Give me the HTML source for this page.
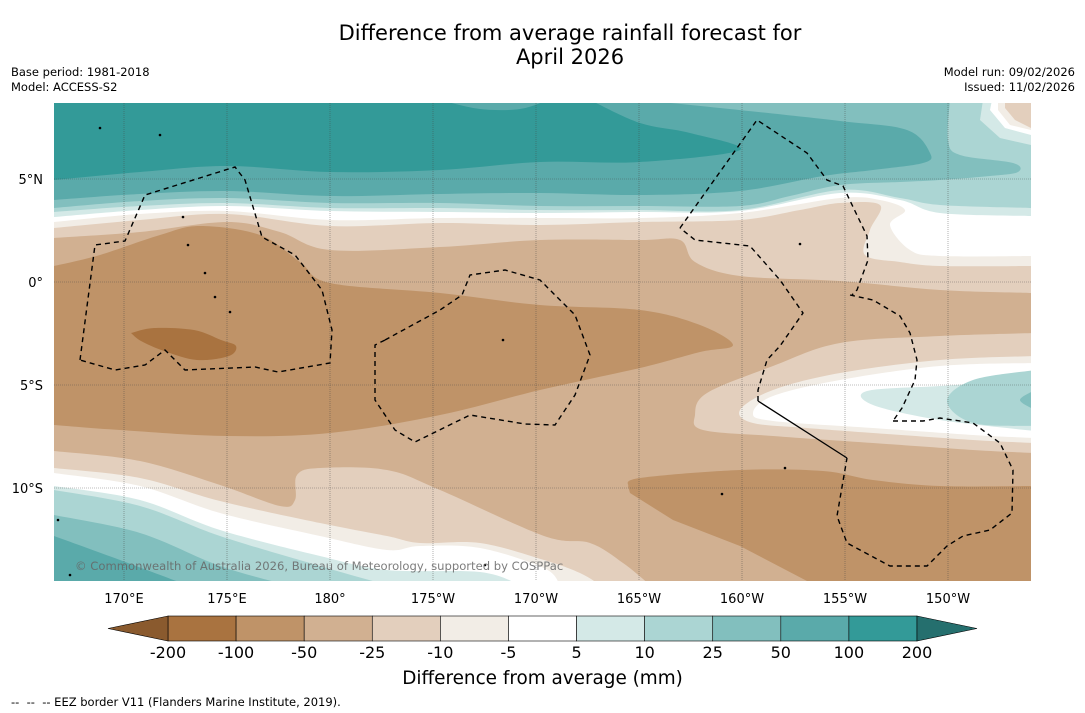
<!DOCTYPE html>
<html><head><meta charset="utf-8">
<style>
html,body{margin:0;padding:0;background:#fff;}
body{width:1085px;height:713px;overflow:hidden;font-family:"DejaVu Sans","Liberation Sans",sans-serif;position:relative;}
.t{position:absolute;white-space:nowrap;color:#000;}
</style></head>
<body>
<div class="t" style="left:0;width:1140px;text-align:center;top:21px;font-size:21px;line-height:24px;">Difference from average rainfall forecast for<br>April 2026</div>
<div class="t" style="left:11px;top:65px;font-size:11.5px;line-height:15px;">Base period: 1981-2018<br>Model: ACCESS-S2</div>
<div class="t" style="right:10px;top:65px;font-size:11.5px;line-height:15px;text-align:right;">Model run: 09/02/2026<br>Issued: 11/02/2026</div>
<div class="t" style="left:0;width:1085px;text-align:center;top:668px;font-size:18.4px;">Difference from average (mm)</div>
<div class="t" style="left:11px;top:695px;font-size:11.5px;">--&nbsp; --&nbsp; -- EEZ border V11 (Flanders Marine Institute, 2019).</div>
<svg id="s" width="1085" height="713" style="position:absolute;left:0;top:0" xmlns="http://www.w3.org/2000/svg">
<defs><clipPath id="mc"><rect x="54" y="103" width="977" height="478"/></clipPath></defs>
<g id="map" clip-path="url(#mc)"></g>
<g id="grid"></g>
<g id="eez" clip-path="url(#mc)"></g>
<text x="75" y="570" font-size="11.6" fill="#666" fill-opacity="0.85" font-family="DejaVu Sans">© Commonwealth of Australia 2026, Bureau of Meteorology, supported by COSPPac</text>
<g id="axes" font-family="DejaVu Sans" font-size="13"></g>
<g id="cbar"></g>
</svg>
<script>
const NS='http://www.w3.org/2000/svg';
const levels=['-200','-100','-50','-25','-10','-5','5','10','25','50','100','200'];
const colors=['#a97340','#bf9368','#d1b091','#e3cfbd','#f2ede6','#ffffff','#d4e9e7','#abd5d3','#82bfbe','#5aaaaa','#339a98'];
const underColor='#8a5a2e', overColor='#256f6e';
const lonTicks=['170°E','175°E','180°','175°W','170°W','165°W','160°W','155°W','150°W'];
const lonVals=[170,175,180,185,190,195,200,205,210];
const latTicks=['5°N','0°','5°S','10°S'];
const latVals=[5,0,-5,-10];
const X=lon=>124+(lon-170)*20.6, Y=lat=>282-lat*20.6;
function mk(tag,attrs,parent){const e=document.createElementNS(NS,tag);for(const k in attrs)e.setAttribute(k,attrs[k]);parent.appendChild(e);return e;}
function smooth(p){let d='M'+p[0][0]+','+p[0][1];for(let i=0;i<p.length-1;i++){const a=p[i-1]||p[i],b=p[i],c=p[i+1],e=p[i+2]||c;
 d+=' C'+(b[0]+(c[0]-a[0])/6).toFixed(1)+','+(b[1]+(c[1]-a[1])/6).toFixed(1)+' '+(c[0]-(e[0]-b[0])/6).toFixed(1)+','+(c[1]-(e[1]-b[1])/6).toFixed(1)+' '+c[0]+','+c[1];}return d;}
const map=document.getElementById('map');
function region(pts,extra,ci,name){const p=mk('path',{d:smooth(pts)+extra+' Z',fill:colors[ci]},map);}
mk('rect',{x:54,y:103,width:977,height:478,fill:colors[2]},map);
region([[54,238],[140,232],[227,222],[280,232],[330,250],[440,247],[540,240],[640,240],[680,240],[695,262],[740,276],[840,281],[940,290],[1031,293]],' L1031,100 L54,100',3,'top-band-minus25');
region([[54,228],[140,220],[227,214],[330,226],[440,223],[540,225],[640,222],[740,220],[800,210],[840,203],[880,205],[870,230],[865,255],[900,262],[940,266],[1031,266]],' L1031,128 L1015,120 L1005,108 L1005,100 L54,100',4,'top-band-minus10');
region([[54,222],[140,214],[227,211],[330,220],[440,218],[540,218],[640,218],[740,213],[840,198],[880,200],[905,210],[890,225],[910,250],[940,256],[1031,256]],' L1031,130 L1010,125 L998,110 L998,100 L54,100',5,'top-band-white');
region([[54,217],[140,210],[227,206],[330,211],[440,212],[540,213],[640,212],[740,211],[840,193],[900,200],[940,213],[1031,216]],' L1031,135 L1005,128 L990,110 L992,100 L54,100',6,'top-band-5');
region([[54,212],[140,206],[227,203],[330,208],[440,208],[540,210],[640,210],[740,210],[840,190],[900,198],[940,205],[1031,208]],' L1031,145 L1000,138 L980,120 L983,100 L54,100',7,'top-band-10');
region([[54,208],[140,201],[227,198],[330,203],[440,203],[540,206],[640,206],[740,206],[790,196],[840,185],[900,182],[940,180],[990,176],[1018,172],[1013,163],[960,155],[948,140],[950,100]],' L54,100',8,'top-band-25');
region([[54,200],[140,194],[227,191],[330,196],[440,194],[540,193],[640,195],[740,191],[823,176],[873,170],[923,163],[930,153],[907,130],[840,121],[720,108],[640,100]],' L54,100',9,'top-band-50');
region([[54,180],[140,172],[227,166],[330,172],[440,170],[540,162],[640,162],[740,150],[690,133],[640,123],[590,100]],' L54,100',10,'top-band-100');
region([[440,100],[480,109],[520,109],[548,100]],'',9,'top-patch-50');
region([[54,451],[140,461],[220,485],[280,506],[295,500],[297,475],[320,468],[387,470],[440,490],[544,536],[590,543],[623,563],[650,585]],' L54,585',3,'bottom-band-minus25');
region([[54,468],[140,478],[220,501],[320,523],[387,536],[420,543],[480,543],[544,560],[580,573],[600,585]],' L54,585',4,'bottom-band-minus10');
region([[54,473],[140,486],[220,513],[320,536],[387,550],[420,546],[480,548],[544,568],[560,585]],' L54,585',5,'bottom-band-white');
region([[54,486],[140,500],[220,530],[320,556],[387,570],[480,572],[520,585]],' L54,585',6,'bottom-band-5');
region([[54,490],[140,506],[220,536],[320,566],[387,585]],' L54,585',7,'bottom-band-10');
region([[54,515],[140,533],[220,566],[287,585]],' L54,585',8,'bottom-band-25');
region([[54,536],[120,560],[187,585]],' L54,585',9,'bottom-band-50');
region([[54,266],[100,255],[160,235],[200,226],[260,235],[300,262],[330,283],[440,293],[540,305],[640,310],[700,325],[733,345],[700,352],[640,368],[540,390],[440,415],[330,433],[227,436],[120,430],[54,425]],' L50,425 L50,266',1,'dry-band-minus100');
region([[131,333],[154,328],[194,330],[221,340],[236,346],[229,356],[197,360],[164,351],[141,341],[131,333]],'',0,'dry-core-minus200');
region([[628,486],[640,478],[740,470],[823,471],[873,480],[940,486],[1031,486]],' L1035,486 L1035,585 L820,585 L807,581 L740,546 L673,520 L630,493',1,'southeast-dry-minus100');
region([[1035,333],[940,336],[840,343],[773,366],[707,393],[695,415],[703,430],[773,436],[873,443],[973,450],[1035,453]],'',3,'tongue-minus25');
region([[1035,356],[940,360],[840,373],[773,390],[740,410],[753,423],[807,428],[873,433],[973,440],[1035,443]],'',4,'tongue-minus10');
region([[1035,363],[940,366],[840,380],[773,396],[753,413],[773,421],[873,428],[973,435],[1035,438]],'',5,'tongue-white');
region([[1035,380],[940,386],[867,391],[873,405],[940,420],[1035,431]],'',6,'tongue-5');
region([[1035,370],[973,380],[947,401],[973,423],[1035,426]],'',7,'tongue-10');
region([[1035,390],[1020,400],[1035,410]],'',8,'tongue-25');
const isl=[[183,217],[188,245],[205,273],[215,297],[230,312],[160,135],[100,128],[503,340],[800,244],[785,468],[722,494],[485,565],[70,575],[58,520]];
isl.forEach(p=>{const c=mk('circle',{cx:p[0],cy:p[1],r:1.3,fill:'#000'},map);});
const grid=document.getElementById('grid');
lonVals.forEach(v=>{const l=mk('line',{x1:X(v),x2:X(v),y1:103,y2:581,stroke:'#444','stroke-width':0.6,'stroke-opacity':0.7,'stroke-dasharray':'1,1'},grid);});
latVals.forEach(v=>{const l=mk('line',{x1:54,x2:1031,y1:Y(v),y2:Y(v),stroke:'#444','stroke-width':0.6,'stroke-opacity':0.7,'stroke-dasharray':'1,1'},grid);});
const ax=document.getElementById('axes');
lonTicks.forEach((t,i)=>{const e=mk('text',{x:X(lonVals[i]),y:603,'text-anchor':'middle'},ax);e.textContent=t;});
latTicks.forEach((t,i)=>{const e=mk('text',{x:43,y:Y(latVals[i])+5,'text-anchor':'end'},ax);e.textContent=t;});
const eez=document.getElementById('eez');
const eezLines=[
[[80,360],[95,245],[125,241],[145,195],[235,167],[245,180],[262,237],[295,255],[322,290],[332,330],[330,363],[278,372],[255,367],[185,370],[165,350],[145,365],[115,370],[80,360]],
[[385,340],[440,310],[462,295],[470,275],[505,270],[540,280],[575,315],[590,355],[575,395],[555,425],[525,424],[470,415],[415,442],[395,430],[375,400],[375,345],[385,340]],
[[680,228],[757,120],[807,153],[827,180],[843,186],[867,236],[868,260],[857,290],[852,295]],
[[850,295],[873,300],[900,316],[910,333],[917,360],[915,380],[902,408],[893,421]],
[[893,421],[923,421],[940,418],[973,423],[1000,443],[1013,470],[1012,513],[990,530],[963,536],[947,546],[927,566],[890,566],[847,543],[837,516],[847,458]],
[[758,401],[758,390],[767,360],[780,346],[803,313],[780,280],[750,246],[695,240],[680,228]]];
eezLines.forEach(pts=>{const p=mk('polyline',{points:pts.map(q=>q.join(',')).join(' '),fill:'none',stroke:'#000','stroke-width':1.4,'stroke-dasharray':'5,4'},eez);});
const sl=mk('line',{x1:847,y1:458,x2:758,y2:401,stroke:'#000','stroke-width':1.3},eez);
const cb=document.getElementById('cbar');
const cx0=168,cx1=917,cy=616,ch=25,bw=(cx1-cx0)/colors.length;
colors.forEach((c,i)=>{const r=mk('rect',{x:cx0+i*bw,y:cy,width:bw,height:ch,fill:c,stroke:'#000','stroke-width':0.6},cb);});
const tl=mk('polygon',{points:`${cx0},${cy} ${cx0-60},${cy+ch/2} ${cx0},${cy+ch}`,fill:underColor,stroke:'#000','stroke-width':0.6},cb);
const tr=mk('polygon',{points:`${cx1},${cy} ${cx1+60},${cy+ch/2} ${cx1},${cy+ch}`,fill:overColor,stroke:'#000','stroke-width':0.6},cb);
levels.forEach((l,i)=>{const e=mk('text',{x:cx0+i*bw,y:658,'text-anchor':'middle','font-size':16,'font-family':'DejaVu Sans'},cb);e.textContent=l;});
</script>
</body></html>
